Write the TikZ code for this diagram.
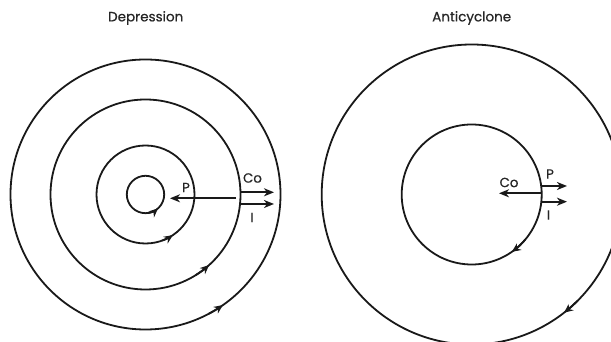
\documentclass[tikz,border=0pt]{standalone}
\usepackage{fontspec}
\setmainfont{Poppins}
\newfontfamily\tfont{Poppins}[BoldFont={Poppins},BoldFeatures={FakeBold=0.6}]
\usetikzlibrary{arrows.meta,calc}
\begin{document}
\begin{tikzpicture}[x=1pt,y=1pt,
  ring/.style={draw=black!90,line width=1.8pt},
  flow/.style={draw=black!90,line width=1.9pt,-{Stealth[length=10pt,width=8pt,inset=3pt]}},
  spin/.style={draw=black!90,line width=1.8pt,-{Stealth[length=9pt,width=8pt,inset=3pt]}},
  lbl/.style={font=\tfont\bfseries\fontsize{13.3}{15}\selectfont,text=black!85,inner sep=0pt},
  ttl/.style={font=\tfont\bfseries\fontsize{13.5}{15}\selectfont,text=black!85,inner sep=0pt}]
\clip (0,0) rectangle (611,342);
\useasboundingbox (0,0) rectangle (611,342);
\fill[white] (0,0) rectangle (611,342);
% Depression
\coordinate (dc) at (145.5,147.5);
\node[ttl] (dtitle) at (145.7,324) {Depression};
\foreach \r in {135,95,49,18.7} \draw[ring] (dc) circle[radius=\r];
\draw[spin] ($(dc)+(-80:18.7)$) arc[start angle=-80,end angle=-48,radius=18.7];
\draw[spin] ($(dc)+(-70:49)$) arc[start angle=-70,end angle=-56,radius=49];
\draw[spin] ($(dc)+(-58:95)$) arc[start angle=-58,end angle=-48,radius=95];
\draw[spin] ($(dc)+(-62:135)$) arc[start angle=-62,end angle=-55,radius=135];
\coordinate (dpS) at (236,143.7);
\coordinate (dpE) at (170,143.7);
\coordinate (dcoS) at (240,149.7);
\coordinate (dcoE) at (274,149.7);
\coordinate (diS) at (240,138);
\coordinate (diE) at (274,138);
\draw[flow] (dpS) -- (dpE);
\draw[flow] (dcoS) -- (dcoE);
\draw[flow] (diS) -- (diE);
\node[lbl] (dP) at (186,154.5) {P};
\node[lbl] (dCo) at (252.5,164) {Co};
\node[lbl] (dI) at (252,124.5) {I};
% Anticyclone
\coordinate (ac) at (471.7,147.5);
\node[ttl] (atitle) at (471.7,324) {Anticyclone};
\draw[ring] (ac) circle[radius=150];
\draw[ring] (ac) circle[radius=70];
\draw[spin] ($(ac)+(-40:70)$) arc[start angle=-40,end angle=-55,radius=70];
\draw[spin] ($(ac)+(-45:150)$) arc[start angle=-45,end angle=-52,radius=150];
\coordinate (acoS) at (541,148.7);
\coordinate (acoE) at (499,148.7);
\coordinate (apS) at (541,156);
\coordinate (apE) at (567,156);
\coordinate (aiS) at (541,140.3);
\coordinate (aiE) at (567,140.3);
\draw[flow] (acoS) -- (acoE);
\draw[flow] (apS) -- (apE);
\draw[flow] (aiS) -- (aiE);
\node[lbl] (aCo) at (509,159.5) {Co};
\node[lbl] (aP) at (550,168) {P};
\node[lbl] (aI) at (548.5,127) {I};
\end{tikzpicture}
\end{document}
